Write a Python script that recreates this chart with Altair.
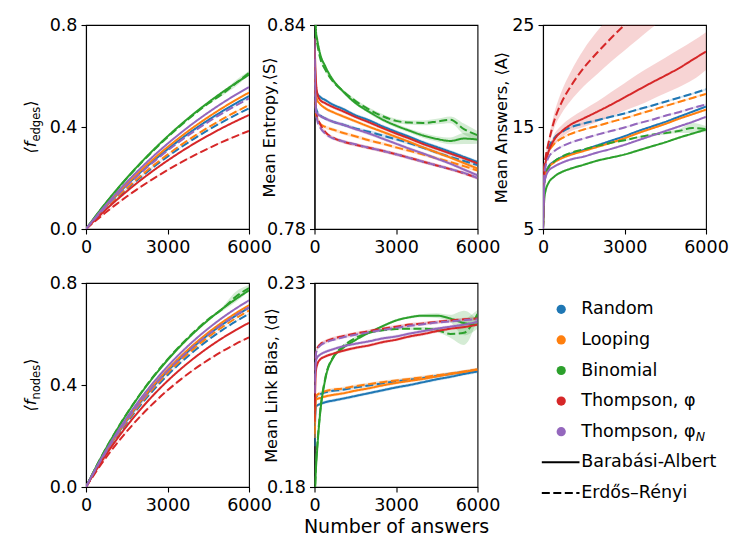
import altair as alt
import pandas as pd

# ---------------- data ----------------
X = [0, 50, 100, 200, 400, 700, 1000, 1500, 2000, 2500, 3000, 3500, 4000, 4500, 5000, 5500, 6000]

STRATEGIES = ["Random", "Looping", "Binomial", "Thompson, φ", "Thompson, φN"]
KEYS = ["random", "looping", "binomial", "phi", "phin"]
COLORS = ["#1f77b4", "#ff7f0e", "#2ca02c", "#d62728", "#9467bd"]
NETWORKS = ["Barabási-Albert", "Erdős–Rényi"]
NET_KEYS = ["ba", "er"]

LEGEND_LABELS = ["Random", "Looping", "Binomial", "Thompson, φ", "Thompson, φ"]
LEGEND_SUB = ["N"]

X_TICKS = [0, 3000, 6000]
X_TITLE = "Number of answers"
TITLE_EDGES = ["⟨f", "edges", "⟩"]
TITLE_NODES = ["⟨f", "nodes", "⟩"]
TITLE_ENTROPY = "Mean Entropy,⟨S⟩"
TITLE_ANSWERS = "Mean Answers, ⟨A⟩"
TITLE_BIAS = "Mean Link Bias, ⟨d⟩"

# <f_edges>
edges_random_ba = [0, .0063, .0126, .0250, .0493, .0847, .1185, .1721, .2221, .2689, .3126, .3535, .3917, .4273, .4607, .4918, .521]
edges_random_er = [0, .0057, .0114, .0227, .0448, .0769, .1076, .1562, .2016, .2441, .2838, .3209, .3556, .3880, .4183, .4465, .473]
edges_looping_ba = [0, .0065, .0129, .0257, .0507, .0870, .1217, .1767, .2281, .2761, .3210, .3630, .4022, .4388, .4731, .5050, .535]
edges_looping_er = [0, .0059, .0118, .0233, .0460, .0790, .1106, .1605, .2072, .2508, .2916, .3298, .3654, .3986, .4298, .4588, .486]
edges_binomial_ba = [0, .0073, .0146, .0290, .0573, .0984, .1376, .1998, .2579, .3122, .3630, .4105, .4548, .4962, .5350, .5711, .605]
edges_binomial_er = [0, .0073, .0145, .0288, .0568, .0976, .1365, .1982, .2558, .3097, .3600, .4071, .4511, .4921, .5280, .5700, .612]
edges_phi_ba = [0, .0054, .0108, .0215, .0423, .0727, .1017, .1476, .1906, .2307, .2682, .3033, .3361, .3666, .3953, .4220, .447]
edges_phi_er = [0, .0047, .0093, .0185, .0365, .0626, .0876, .1272, .1641, .1987, .2310, .2612, .2894, .3158, .3405, .3634, .385]
edges_phin_ba = [0, .0067, .0135, .0267, .0527, .0906, .1267, .1840, .2374, .2875, .3342, .3779, .4188, .4569, .4926, .5258, .557]
edges_phin_er = [0, .0062, .0124, .0246, .0485, .0833, .1165, .1691, .2183, .2642, .3072, .3474, .3849, .4199, .4528, .4833, .512]
edges_binomial_er_hw = [0, 0, 0, 0, 0, 0, 0, 0, 0, 0, .002, .002, .003, .004, .006, .012, .008]

# <f_nodes>
nodes_random_ba = [0, .0100, .0199, .0394, .0773, .1315, .1824, .2607, .3317, .3959, .4539, .5064, .5540, .5970, .6359, .6711, .703]
nodes_random_er = [0, .0096, .0192, .0381, .0747, .1270, .1761, .2518, .3203, .3823, .4384, .4892, .5351, .5766, .6142, .6482, .679]
nodes_looping_ba = [0, .0101, .0202, .0400, .0784, .1333, .1850, .2645, .3364, .4015, .4604, .5136, .5618, .6055, .6450, .6806, .713]
nodes_looping_er = [0, .0098, .0196, .0388, .0761, .1294, .1795, .2567, .3265, .3897, .4468, .4985, .5453, .5876, .6260, .6606, .692]
nodes_binomial_ba = [0, .0109, .0218, .0433, .0848, .1442, .2000, .2860, .3638, .4341, .4978, .5554, .6075, .6547, .6974, .7360, .771]
nodes_binomial_er = [0, .0110, .0219, .0435, .0853, .1449, .2010, .2874, .3656, .4364, .5004, .5583, .6107, .6581, .6960, .7450, .780]
nodes_phi_ba = [0, .0091, .0182, .0361, .0708, .1204, .1671, .2389, .3038, .3626, .4158, .4639, .5075, .5469, .5826, .6148, .644]
nodes_phi_er = [0, .0083, .0166, .0329, .0646, .1098, .1523, .2177, .2769, .3305, .3790, .4229, .4626, .4985, .5310, .5604, .587]
nodes_phin_ba = [0, .0104, .0207, .0411, .0805, .1369, .1899, .2715, .3454, .4122, .4727, .5273, .5768, .6216, .6622, .6988, .732]
nodes_phin_er = [0, .0100, .0200, .0396, .0776, .1318, .1829, .2615, .3326, .3970, .4552, .5079, .5555, .5987, .6377, .6730, .705]
nodes_binomial_er_hw = [0, 0, 0, 0, 0, 0, 0, 0, 0, 0, .002, .002, .002, .004, .008, .020, .012]

# Mean entropy <S>
entropy_random_ba = [.834, .8215, .8199, .8189, .8179, .8165, .8155, .8135, .8120, .8102, .8086, .8071, .8055, .8041, .8027, .8012, .7997]
entropy_random_er = [.830, .8160, .8145, .8135, .8125, .8115, .8108, .8096, .8086, .8075, .8064, .8052, .8039, .8025, .8012, .8000, .7988]
entropy_looping_ba = [.833, .8200, .8180, .8168, .8155, .8143, .8133, .8117, .8101, .8086, .8071, .8056, .8040, .8025, .8010, .7994, .7978]
entropy_looping_er = [.828, .8140, .8125, .8110, .8100, .8092, .8084, .8073, .8061, .8051, .8040, .8030, .8019, .8008, .7997, .7985, .7972]
entropy_binomial_ba = [.860, .8386, .8357, .8317, .8278, .8236, .8209, .8171, .8145, .8122, .8104, .8089, .8075, .8065, .8059, .8066, .8063]
entropy_binomial_er = [.855, .8370, .8345, .8305, .8268, .8232, .8209, .8177, .8152, .8132, .8118, .8113, .8112, .8116, .8121, .8094, .8076]
entropy_phi_ba = [.836, .8240, .8200, .8180, .8170, .8158, .8148, .8130, .8114, .8097, .8081, .8066, .8050, .8036, .8022, .8008, .7993]
entropy_phi_er = [.832, .8150, .8130, .8110, .8085, .8068, .8058, .8048, .8039, .8030, .8020, .8009, .7998, .7987, .7976, .7964, .7950]
entropy_phin_ba = [.836, .8150, .8140, .8133, .8125, .8115, .8108, .8094, .8081, .8066, .8051, .8036, .8022, .8007, .7992, .7975, .7958]
entropy_phin_er = [.830, .8145, .8120, .8100, .8080, .8066, .8059, .8049, .8039, .8030, .8020, .8009, .7998, .7987, .7976, .7965, .7950]
entropy_binomial_ba_hw = [0, .0004, .0004, .0004, .0005, .0005, .0005, .0005, .0005, .0006, .0006, .0006, .0007, .0008, .0010, .0016, .0012]
entropy_binomial_er_hw = [0, .0004, .0004, .0004, .0005, .0005, .0005, .0005, .0005, .0006, .0006, .0006, .0007, .0008, .0010, .0016, .0012]

# Mean answers <A>
answers_random_ba = [5, 9.8, 10.5, 11.1, 11.6, 12.05, 12.35, 12.75, 13.2, 13.65, 14.1, 14.6, 15.05, 15.5, 16.0, 16.5, 17.0]
answers_random_er = [5, 10.9, 11.9, 12.88, 13.87, 14.52, 14.95, 15.34, 15.67, 16.0, 16.33, 16.72, 17.09, 17.48, 17.87, 18.27, 18.69]
answers_looping_ba = [5, 9.8, 10.4, 11.0, 11.5, 11.95, 12.25, 12.65, 13.05, 13.45, 13.9, 14.4, 14.85, 15.3, 15.8, 16.25, 16.7]
answers_looping_er = [5, 10.7, 11.6, 12.5, 13.3, 13.9, 14.3, 14.75, 15.1, 15.5, 15.85, 16.25, 16.65, 17.05, 17.45, 17.85, 18.25]
answers_binomial_ba = [5, 8.0, 8.8, 9.5, 10.1, 10.6, 10.9, 11.3, 11.7, 12.0, 12.3, 12.7, 13.1, 13.5, 13.95, 14.35, 14.75]
answers_binomial_er = [5, 9.5, 10.3, 11.0, 11.6, 12.1, 12.45, 12.8, 13.15, 13.45, 13.7, 14.0, 14.25, 14.4, 14.6, 14.9, 14.8]
answers_phi_ba = [5, 10.75, 11.57, 12.55, 13.7, 14.6, 15.2, 15.85, 16.5, 17.18, 17.9, 18.63, 19.35, 20.04, 20.76, 21.58, 22.4]
answers_phi_er = [5, 11.1, 12.1, 13.4, 15.5, 17.5, 18.9, 20.8, 22.3, 23.7, 25.0, 26.25, 27.45, 28.6, 29.7, 30.8, 31.9]
answers_phin_ba = [5, 9.5, 10.1, 10.7, 11.1, 11.5, 11.8, 12.1, 12.5, 12.85, 13.25, 13.7, 14.15, 14.6, 15.05, 15.5, 16.0]
answers_phin_er = [5, 10.4, 11.2, 12.0, 12.6, 13.1, 13.45, 13.87, 14.25, 14.6, 14.95, 15.35, 15.7, 16.1, 16.45, 16.85, 17.2]
answers_phi_ba_lo = [5, 10.6, 11.3, 12.2, 13.2, 14.0, 14.55, 15.0, 15.5, 16.0, 16.6, 17.1, 17.7, 18.3, 18.9, 19.6, 20.6]
answers_phi_ba_hi = [5, 10.9, 11.8, 12.9, 14.2, 15.2, 15.85, 16.7, 17.5, 18.4, 19.3, 20.2, 21.0, 21.8, 22.6, 23.4, 24.3]
answers_phi_er_lo = [5, 10.9, 11.8, 13.0, 14.8, 16.4, 17.5, 19.0, 20.2, 21.4, 22.5, 23.6, 24.7, 25.7, 26.7, 27.7, 28.7]
answers_phi_er_hi = [5, 11.3, 12.4, 13.8, 16.2, 18.6, 20.3, 22.6, 24.4, 26.0, 27.5, 28.9, 30.2, 31.5, 32.7, 33.9, 35.1]
answers_binomial_er_hw = [0, .1, .1, .1, .1, .1, .1, .1, .1, .1, .1, .1, .1, .15, .2, .5, .3]

# Mean link bias <d>
bias_random_ba = [.190, .1997, .2000, .2003, .2008, .2012, .2016, .2023, .2030, .2037, .2044, .2050, .2057, .2064, .2070, .2077, .2083]
bias_random_er = [.192, .2018, .2023, .2027, .2032, .2036, .2038, .2044, .2049, .2054, .2059, .2063, .2067, .2072, .2077, .2082, .2087]
bias_looping_ba = [.192, .2013, .2016, .2018, .2022, .2026, .2029, .2036, .2042, .2049, .2055, .2060, .2065, .2071, .2077, .2082, .2088]
bias_looping_er = [.193, .2022, .2026, .2030, .2035, .2039, .2041, .2047, .2052, .2057, .2061, .2065, .2069, .2074, .2078, .2083, .2088]
bias_binomial_ba = [.175, .1840, .1893, .1975, .2065, .2118, .2138, .2160, .2178, .2194, .2208, .2216, .2220, .2220, .2213, .2202, .2198]
bias_binomial_er = [.175, .1850, .1900, .1980, .2068, .2120, .2142, .2165, .2178, .2184, .2187, .2188, .2188, .2185, .2175, .2178, .2224]
bias_phi_ba = [.196, .2083, .2100, .2112, .2120, .2127, .2133, .2141, .2147, .2155, .2161, .2169, .2175, .2182, .2188, .2192, .2198]
bias_phi_er = [.200, .2128, .2140, .2149, .2157, .2164, .2169, .2176, .2182, .2188, .2193, .2198, .2201, .2205, .2208, .2211, .2213]
bias_phin_ba = [.203, .2108, .2117, .2124, .2131, .2138, .2144, .2151, .2157, .2164, .2169, .2176, .2182, .2188, .2193, .2198, .2205]
bias_phin_er = [.203, .2124, .2137, .2146, .2154, .2161, .2166, .2173, .2179, .2185, .2190, .2195, .2199, .2203, .2206, .2209, .2211]
bias_binomial_ba_hw = [0, .0006, .0005, .0004, .0003, .0003, .0003, .0003, .0003, .0003, .0003, .0003, .0004, .0006, .0009, .0030, .0010]
bias_binomial_er_hw = [0, .0006, .0005, .0004, .0003, .0003, .0003, .0003, .0003, .0003, .0003, .0003, .0004, .0006, .0009, .0030, .0010]

HW_DEFAULT = {"edges": 0.0025, "nodes": 0.0025, "entropy": 0.0005, "answers": 0.1, "bias": 0.0004}

# ---------------- table ----------------
V = globals()
rows = []
for panel, hw0 in HW_DEFAULT.items():
    for s, k in zip(STRATEGIES, KEYS):
        for n, nk in zip(NETWORKS, NET_KEYS):
            name = f"{panel}_{k}_{nk}"
            vals = V[name]
            if name + "_lo" in V:
                lo, hi = V[name + "_lo"], V[name + "_hi"]
            else:
                hw = V.get(name + "_hw", [hw0] * len(X))
                lo = [v - h for v, h in zip(vals, hw)]
                hi = [v + h for v, h in zip(vals, hw)]
            for i, xv in enumerate(X):
                rows.append({"panel": panel, "strategy": s, "network": n,
                             "series": f"{s}|{n}", "x": xv, "y": vals[i],
                             "lo": lo[i], "hi": hi[i]})
DF = pd.DataFrame(rows)

W, H = 163, 204
FONT = "DejaVu Sans"

color = alt.Color("strategy:N", scale=alt.Scale(domain=STRATEGIES, range=COLORS), legend=None)
dash = alt.StrokeDash("network:N", scale=alt.Scale(domain=NETWORKS, range=[[1, 0], [8, 3.5]]), legend=None)


def panel(p, ydom, yvals, yfmt, ytitle=None, title_x=-40, xtitle=None, sub_title=None):
    d = DF[DF.panel == p]
    xs = alt.Scale(domain=[0, 6000], nice=False, zero=False)
    ys = alt.Scale(domain=ydom, nice=False, zero=False)
    if xtitle:
        xaxis = alt.Axis(values=X_TICKS, format="d", labelFlush=False, title=xtitle,
                         titleFontSize=19, titleY=45, titleBaseline="alphabetic")
    else:
        xaxis = alt.Axis(values=X_TICKS, format="d", labelFlush=False, title=None)
    if ytitle:
        yaxis = alt.Axis(values=yvals, format=yfmt, labelFlush=False, title=ytitle,
                         titleFontSize=16.2, titleX=title_x, titleY=H / 2, titleAngle=270,
                         titleAlign="center", titleBaseline="alphabetic")
    else:
        yaxis = alt.Axis(values=yvals, format=yfmt, labelFlush=False, title=None)

    area = alt.Chart(d).mark_area(opacity=0.2, clip=True, interpolate="monotone").encode(
        x=alt.X("x:Q", scale=xs, axis=xaxis),
        y=alt.Y("lo:Q", scale=ys, axis=yaxis, stack=None),
        y2="hi:Q",
        color=color,
        detail="series:N",
    )
    line = alt.Chart(d).mark_line(strokeWidth=2, clip=True, interpolate="monotone").encode(
        x=alt.X("x:Q", scale=xs, axis=xaxis),
        y=alt.Y("y:Q", scale=ys, axis=yaxis),
        color=color,
        strokeDash=dash,
        detail="series:N",
    )
    layers = [area, line]
    if sub_title:
        one = pd.DataFrame({"t": [sub_title[0]]})
        two = pd.DataFrame({"t": [sub_title[1]]})
        three = pd.DataFrame({"t": [sub_title[2]]})
        layers.append(alt.Chart(one).mark_text(angle=270, align="left", baseline="alphabetic",
                                               fontSize=16.2, fontStyle="italic", color="black").encode(
            text="t:N", x=alt.value(-50), y=alt.value(128.5)))
        layers.append(alt.Chart(two).mark_text(angle=270, align="left", baseline="alphabetic",
                                               fontSize=11.5, color="black").encode(
            text="t:N", x=alt.value(-46), y=alt.value(116.5)))
        layers.append(alt.Chart(three).mark_text(angle=270, align="left", baseline="alphabetic",
                                                 fontSize=16.2, color="black").encode(
            text="t:N", x=alt.value(-50), y=alt.value(81.8)))
    return alt.layer(*layers).properties(width=W, height=H)


p_edges = panel("edges", [0, 0.8], [0, 0.4, 0.8], ".1f", sub_title=TITLE_EDGES)
p_entropy = panel("entropy", [0.78, 0.84], [0.78, 0.84], ".2f", ytitle=TITLE_ENTROPY, title_x=-40)
p_answers = panel("answers", [5, 25], [5, 15, 25], "d", ytitle=TITLE_ANSWERS, title_x=-36.5)
p_nodes = panel("nodes", [0, 0.8], [0, 0.4, 0.8], ".1f", sub_title=TITLE_NODES)
p_bias = panel("bias", [0.18, 0.23], [0.18, 0.23], ".2f", ytitle=TITLE_BIAS, title_x=-38.5, xtitle=X_TITLE)

# ---------------- legend panel ----------------
leg_strat = pd.DataFrame({"row": [0, 1, 2, 3, 4], "label": LEGEND_LABELS, "strategy": STRATEGIES})
leg_sub = pd.DataFrame({"row": [4], "label": LEGEND_SUB})
leg_net = pd.DataFrame({"row": [5, 6], "label": NETWORKS, "network": NETWORKS})
yrow = alt.Y("row:Q", scale=alt.Scale(domain=[0, 6], range=[26.3, 209.9]), axis=None)

leg = alt.layer(
    alt.Chart(leg_strat).mark_circle(size=85, opacity=1).encode(x=alt.value(18.2), y=yrow, color=color),
    alt.Chart(leg_strat).mark_text(align="left", baseline="middle", fontSize=17.5, color="black").encode(
        x=alt.value(38.2), y=yrow, text="label:N"),
    alt.Chart(leg_sub).mark_text(align="left", baseline="middle", fontSize=12.5, fontStyle="italic",
                                 color="black", dx=114.5, dy=5).encode(
        x=alt.value(38.2), y=yrow, text="label:N"),
    alt.Chart(leg_net).mark_rule(strokeWidth=2, color="black").encode(
        x=alt.value(-1.2), x2=alt.value(36.5), y=yrow, strokeDash=dash),
    alt.Chart(leg_net).mark_text(align="left", baseline="middle", fontSize=17.5, color="black").encode(
        x=alt.value(38.2), y=yrow, text="label:N"),
).properties(width=W, height=H, view=alt.ViewBackground(stroke="transparent"))

chart = alt.concat(
    p_edges, p_entropy, p_answers, p_nodes, p_bias, leg,
    columns=3, spacing={"row": 54, "column": 65.5}, bounds="flush",
).properties(
    padding={"left": 14, "top": 7, "right": 5, "bottom": 5}
).configure(font=FONT).configure_view(
    stroke="black", strokeWidth=1.1
).configure_axis(
    domainColor="black", domainWidth=1.1, tickColor="black", tickWidth=1.1, tickSize=5,
    labelFontSize=17.5, labelColor="black", labelFont=FONT, labelPadding=4,
    titleFont=FONT, titleFontWeight="normal", titleColor="black", grid=False,
)

chart.save("out.html", embed_options={"renderer": "svg", "actions": False})
